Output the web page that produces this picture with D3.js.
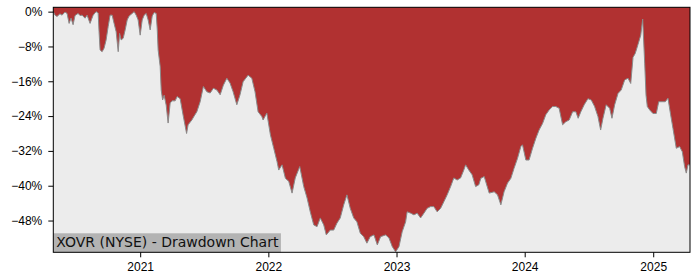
<!DOCTYPE html>
<html>
<head>
<meta charset="utf-8">
<script src="https://cdn.jsdelivr.net/npm/d3@7"></script>
<style>
  html, body { margin: 0; padding: 0; background: #fff; }
  svg { display: block; font-family: "DejaVu Sans", sans-serif; }
  .axis path { display: none; }
  .axis line { stroke: #000; stroke-width: 1; }
  .axis text { fill: #000; font-size: 12px; }
</style>
</head>
<body>
<div id="chart"></div>
<script>
/* XOVR drawdown — red fill from the top of the plot down to the running drawdown,
 * light grey below it, label box bottom-left. */

// observation dates as decimal years
var ddDates = [
  2020.324, 2020.337, 2020.353, 2020.376, 2020.392, 2020.415, 2020.431, 2020.447, 2020.462, 2020.478,
  2020.493, 2020.517, 2020.532, 2020.548, 2020.571, 2020.587, 2020.610, 2020.634, 2020.657, 2020.673,
  2020.680, 2020.688, 2020.704, 2020.719, 2020.735, 2020.751, 2020.766, 2020.782, 2020.797, 2020.813,
  2020.829, 2020.840, 2020.852, 2020.868, 2020.883, 2020.899, 2020.914, 2020.938, 2020.953, 2020.969,
  2020.984, 2021.000, 2021.016, 2021.031, 2021.047, 2021.062, 2021.078, 2021.094, 2021.109, 2021.125,
  2021.133, 2021.140, 2021.156, 2021.164, 2021.175, 2021.187, 2021.203, 2021.218, 2021.234, 2021.249,
  2021.273, 2021.288, 2021.312, 2021.335, 2021.362, 2021.374, 2021.403, 2021.421, 2021.442, 2021.468,
  2021.493, 2021.520, 2021.546, 2021.571, 2021.598, 2021.624, 2021.649, 2021.676, 2021.701, 2021.725,
  2021.754, 2021.779, 2021.803, 2021.842, 2021.871, 2021.896, 2021.920, 2021.949, 2021.959, 2021.988,
  2022.016, 2022.042, 2022.068, 2022.081, 2022.107, 2022.133, 2022.159, 2022.185, 2022.210, 2022.245,
  2022.276, 2022.302, 2022.327, 2022.354, 2022.380, 2022.405, 2022.432, 2022.452, 2022.483, 2022.510,
  2022.535, 2022.561, 2022.588, 2022.613, 2022.639, 2022.666, 2022.691, 2022.717, 2022.744, 2022.769,
  2022.795, 2022.824, 2022.850, 2022.876, 2022.915, 2022.941, 2022.967, 2022.993, 2023.019, 2023.044,
  2023.071, 2023.083, 2023.110, 2023.136, 2023.161, 2023.188, 2023.214, 2023.239, 2023.266, 2023.291,
  2023.317, 2023.344, 2023.369, 2023.395, 2023.422, 2023.447, 2023.473, 2023.500, 2023.525, 2023.539,
  2023.564, 2023.590, 2023.617, 2023.642, 2023.658, 2023.684, 2023.723, 2023.762, 2023.788, 2023.814,
  2023.839, 2023.866, 2023.892, 2023.917, 2023.944, 2023.970, 2023.983, 2024.009, 2024.034, 2024.061,
  2024.087, 2024.112, 2024.139, 2024.164, 2024.190, 2024.217, 2024.242, 2024.268, 2024.295, 2024.320,
  2024.346, 2024.373, 2024.398, 2024.416, 2024.437, 2024.463, 2024.492, 2024.518, 2024.544, 2024.570,
  2024.591, 2024.609, 2024.634, 2024.661, 2024.679, 2024.700, 2024.726, 2024.751, 2024.778, 2024.804,
  2024.825, 2024.843, 2024.860, 2024.882, 2024.903, 2024.918, 2024.934, 2024.944, 2024.954, 2024.973,
  2024.998, 2025.024, 2025.043, 2025.069, 2025.094, 2025.115, 2025.136, 2025.154, 2025.180, 2025.206,
  2025.227, 2025.245, 2025.258, 2025.271, 2025.287
];

// drawdown from running peak, percent
var ddValues = [
  0, -0.8, -1.1, -0.5, -0.8, -0.1, -0.4, -2.7, -1.5, -3.0,
  -0.9, -0.4, -0.9, -0.8, -1.5, -0.8, -2.7, -0.8, 0, -0.3,
  -4.6, -8.8, -9.2, -8.4, -6.5, -3.4, -0.8, -0.8, -2.7, -4.6,
  -9.2, -5.0, -6.5, -6.1, -4.2, -1.9, -1.0, -0.4, 0, -0.8,
  -1.9, -5.4, -1.9, -0.8, -0.4, -1.9, -4.2, -1.0, -0.2, -0.4,
  -4.0, -8.8, -12.6, -18.0, -20.3, -19.2, -21.5, -25.6, -21.0, -20.5,
  -20.5, -19.5, -20.0, -23.8, -28.0, -26.0, -24.9, -24.0, -23.0, -20.7,
  -17.2, -18.4, -18.7, -17.6, -18.0, -19.1, -16.9, -15.3, -16.4, -18.4,
  -21.4, -19.1, -16.1, -14.6, -15.3, -18.4, -23.0, -24.1, -24.9, -23.3,
  -28.3, -31.4, -34.5, -36.4, -35.2, -38.3, -39.0, -41.7, -38.2, -35.6,
  -40.2, -42.8, -46.0, -49.0, -49.4, -47.4, -49.0, -51.3, -50.2, -50.2,
  -48.6, -47.4, -44.4, -42.1, -45.2, -47.4, -48.3, -50.9, -51.7, -53.2,
  -51.7, -51.3, -53.6, -51.7, -51.3, -52.0, -54.0, -55.2, -54.0, -50.6,
  -48.3, -46.0, -46.3, -46.7, -46.3, -47.4, -46.3, -45.2, -44.8, -44.8,
  -46.0, -45.2, -43.7, -42.1, -40.2, -38.2, -38.7, -38.2, -36.4, -35.2,
  -36.4, -37.5, -40.2, -39.8, -38.3, -37.9, -41.7, -41.4, -42.1, -44.4,
  -41.4, -39.4, -38.3, -36.0, -33.7, -31.0, -30.6, -34.1, -34.1, -31.4,
  -29.1, -27.2, -25.7, -23.7, -22.6, -21.8, -21.8, -22.2, -26.0, -25.3,
  -24.9, -23.0, -23.0, -24.5, -23.0, -21.4, -20.0, -20.3, -21.8, -24.1,
  -27.2, -24.5, -21.4, -22.2, -24.5, -21.4, -18.8, -18.0, -15.7, -15.3,
  -16.5, -10.5, -9.6, -7.5, -5.4, -1.7, -12.0, -19.2, -21.8, -22.6,
  -23.4, -23.4, -20.7, -20.7, -20.7, -19.9, -23.7, -26.8, -31.4, -31.0,
  -32.2, -35.6, -37.1, -35.2, -35.2
];

var yearTicks = [2021, 2022, 2023, 2024, 2025];
var pctTicks = [0, -8, -16, -24, -32, -40, -48];
var chartTitle = "XOVR (NYSE) - Drawdown Chart";

function yearToDate(t) {
  var y = Math.floor(t), a = new Date(y, 0, 1), b = new Date(y + 1, 0, 1);
  return new Date(+a + (t - y) * (b - a));
}

var W = 700, H = 280;
var margin = { top: 7.3, right: 10, bottom: 27.7, left: 53.3 };
var iw = W - margin.left - margin.right, ih = H - margin.top - margin.bottom;

var data = ddDates.map(function (t, i) { return { date: yearToDate(t), v: ddValues[i] }; });

var x = d3.scaleTime()
  .domain([data[0].date, data[data.length - 1].date])
  .range([0, iw]);
var y = d3.scaleLinear().domain([-55.3, 1.0]).range([ih, 0]);

var svg = d3.select("#chart").append("svg").attr("width", W).attr("height", H);
var g = svg.append("g").attr("transform", "translate(" + margin.left + "," + margin.top + ")");

g.append("rect").attr("width", iw).attr("height", ih).attr("fill", "#ececec");

var area = d3.area()
  .x(function (d) { return x(d.date); })
  .y0(y.range()[1])
  .y1(function (d) { return y(d.v); });
g.append("path").datum(data).attr("d", area).attr("fill", "#b13131");

var line = d3.line()
  .x(function (d) { return x(d.date); })
  .y(function (d) { return y(d.v); });
g.append("path").datum(data).attr("d", line)
  .attr("fill", "none").attr("stroke", "#8a8a8a").attr("stroke-width", 1).attr("stroke-linejoin", "round");

// title box, bottom-left inside the plot
var lbl = g.append("g");
var lblText = lbl.append("text")
  .attr("x", 3).attr("y", ih - 5.5)
  .attr("font-size", "14px").attr("fill", "#111")
  .text(chartTitle);
var bb = lblText.node().getBBox();
lbl.insert("rect", "text")
  .attr("x", 0).attr("y", ih - 19)
  .attr("width", bb.x + bb.width + 2).attr("height", 19)
  .attr("fill", "#b3b3b3");

var xAxis = d3.axisBottom(x)
  .tickValues(yearTicks.map(function (yr) { return new Date(yr, 0, 1); }))
  .tickFormat(d3.timeFormat("%Y"))
  .tickSize(5).tickPadding(5);
g.append("g").attr("class", "axis").attr("transform", "translate(0," + ih + ")").call(xAxis);

var yAxis = d3.axisLeft(y)
  .tickValues(pctTicks)
  .tickFormat(function (d) { return (d < 0 ? "\u2212" + (-d) : d) + "%"; })
  .tickSize(5).tickPadding(6);
g.append("g").attr("class", "axis").call(yAxis);

g.append("rect").attr("width", iw).attr("height", ih)
  .attr("fill", "none").attr("stroke", "#000").attr("stroke-width", 1);
</script>
</body>
</html>
